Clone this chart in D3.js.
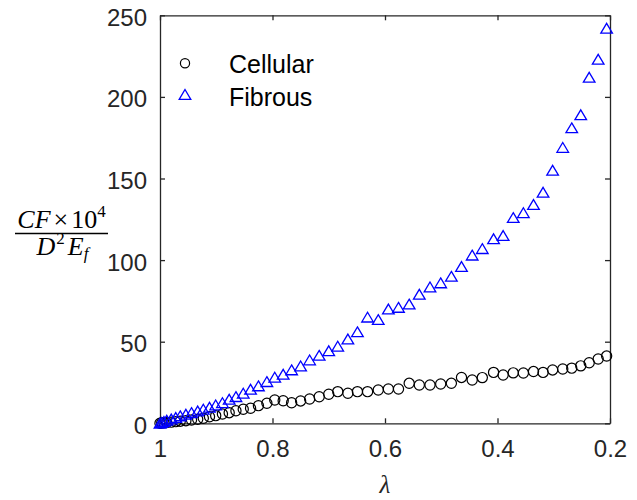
<!DOCTYPE html>
<html>
<head>
<meta charset="utf-8">
<script src="https://cdn.jsdelivr.net/npm/d3@7"></script>
<style>
body { margin: 0; background: #fff; }
.tick text { font-family: "Liberation Sans", Arial, sans-serif; }
</style>
</head>
<body>
<svg width="637" height="500"></svg>
<script>
// stretch values shared by both series
var lambda = [0.206, 0.221, 0.237, 0.252, 0.268, 0.284, 0.302, 0.319, 0.336, 0.354,
  0.372, 0.390, 0.407, 0.427, 0.445, 0.464, 0.482, 0.501, 0.520, 0.539,
  0.557, 0.576, 0.594, 0.612, 0.631, 0.649, 0.666, 0.684, 0.700, 0.717,
  0.734, 0.750, 0.766, 0.781, 0.796, 0.810, 0.825, 0.839, 0.852, 0.865,
  0.877, 0.889, 0.901, 0.912, 0.923, 0.933, 0.944, 0.954, 0.964, 0.972,
  0.980, 0.988, 0.993, 0.997, 1.000];

var cellular = [41.2, 39.4, 37.1, 35.2, 33.8, 33.3, 32.7, 31.2, 31.7, 30.8,
  30.9, 29.6, 31.2, 28.0, 26.5, 28.1, 24.5, 24.1, 23.5, 23.5,
  24.5, 21.0, 21.0, 20.4, 19.4, 19.4, 18.4, 19.4, 17.8, 16.3,
  14.9, 13.7, 12.6, 13.8, 14.3, 12.3, 10.8, 9.2, 8.6, 7.7,
  6.5, 5.7, 4.7, 4.0, 3.1, 2.5, 2.0, 1.6, 1.3, 1.0,
  0.7, 0.5, 0.3, 0.15, 0];

var fibrous = [242, 223, 212, 189, 181, 169, 155, 141.5, 134, 129,
  126, 115, 113, 107, 103, 96, 90, 86, 83.5, 79,
  73, 71, 70, 63.5, 65, 56, 51.6, 47.2, 44.4, 41.6,
  38.8, 35.1, 32.7, 30, 28.2, 25.5, 22.9, 20.8, 18.4, 16.3,
  14.7, 12.6, 11.2, 9.8, 8.6, 7.5, 6.5, 5.5, 4.5, 3.5,
  2.6, 1.8, 1.1, 0.5, 0];

var xTicks = [1, 0.8, 0.6, 0.4, 0.2];
var yTicks = [0, 50, 100, 150, 200, 250];
var seriesNames = ["Cellular", "Fibrous"];

var svg = d3.select("svg");
var plotLeft = 160, plotRight = 610, plotTop = 15.3, plotBottom = 423.3;
var axisColor = "#262626";

var x = d3.scaleLinear().domain([1, 0.2]).range([plotLeft, plotRight]);
var y = d3.scaleLinear().domain([0, 250]).range([plotBottom, plotTop]);

var fmt = function(d) { return d3.format("~g")(d); };

// axes, ticks pointing inwards on all four sides
svg.append("g")
    .attr("class", "xaxis")
    .attr("transform", "translate(0," + plotBottom + ")")
    .call(d3.axisBottom(x).tickValues(xTicks).tickFormat(fmt).tickSizeInner(-5).tickSizeOuter(0).tickPadding(17));
svg.append("g")
    .attr("transform", "translate(0," + plotTop + ")")
    .call(d3.axisTop(x).tickValues(xTicks).tickFormat("").tickSizeInner(-5).tickSizeOuter(0));
svg.append("g")
    .attr("class", "yaxis")
    .attr("transform", "translate(" + plotLeft + ",0)")
    .call(d3.axisLeft(y).tickValues(yTicks).tickSizeInner(-5).tickSizeOuter(0).tickPadding(13));
svg.append("g")
    .attr("transform", "translate(" + plotRight + ",0)")
    .call(d3.axisRight(y).tickValues(yTicks).tickFormat("").tickSizeInner(-5).tickSizeOuter(0));

svg.selectAll(".domain").attr("stroke", axisColor).attr("stroke-width", 1.3);
svg.selectAll(".tick line").attr("stroke", axisColor).attr("stroke-width", 1.3);
svg.selectAll(".tick text").attr("fill", axisColor).attr("font-size", 24);
svg.selectAll(".yaxis .tick text").attr("dy", "0.42em");

// markers
var tri = "M0,-5L5.8,4.8L-5.8,4.8Z";
var rad = 5.1;

svg.append("g").selectAll("circle")
    .data(lambda)
  .enter().append("circle")
    .attr("cx", function(d) { return x(d); })
    .attr("cy", function(d, i) { return y(cellular[i]); })
    .attr("r", rad)
    .attr("fill", "none")
    .attr("stroke", "#000")
    .attr("stroke-width", 1.2);

svg.append("g").selectAll("path")
    .data(lambda)
  .enter().append("path")
    .attr("d", tri)
    .attr("transform", function(d, i) { return "translate(" + x(d) + "," + y(fibrous[i]) + ")"; })
    .attr("fill", "none")
    .attr("stroke", "#0000ff")
    .attr("stroke-width", 1.3);

// legend
var legend = svg.append("g");
legend.append("circle").attr("cx", 185).attr("cy", 63.3).attr("r", 4.6)
    .attr("fill", "none").attr("stroke", "#000").attr("stroke-width", 1.2);
legend.append("path").attr("d", tri).attr("transform", "translate(185,94.5)")
    .attr("fill", "none").attr("stroke", "#0000ff").attr("stroke-width", 1.3);
legend.selectAll("text")
    .data(seriesNames)
  .enter().append("text")
    .attr("x", 229)
    .attr("y", function(d, i) { return 73 + i * 33; })
    .attr("font-family", "Liberation Sans, Arial, sans-serif")
    .attr("font-size", 25)
    .attr("fill", "#000")
    .text(function(d) { return d; });

// x label
svg.append("text")
    .attr("x", 385).attr("y", 493)
    .attr("text-anchor", "middle")
    .attr("font-family", "Liberation Serif, serif")
    .attr("font-style", "italic")
    .attr("font-size", 25)
    .attr("fill", axisColor)
    .text("λ");

// y label as a fraction
var serif = "Liberation Serif, DejaVu Serif, serif";
var num = svg.append("text")
    .attr("x", 61.5).attr("y", 228)
    .attr("text-anchor", "middle")
    .attr("font-family", serif)
    .attr("font-size", 26)
    .attr("fill", "#000");
num.append("tspan").attr("font-style", "italic").text("CF");
num.append("tspan").attr("dx", 3).text("×");
num.append("tspan").attr("dx", 3).text("10");
num.append("tspan").attr("font-size", 17).attr("dy", -11).text("4");

svg.append("line")
    .attr("x1", 15).attr("x2", 108).attr("y1", 233.5).attr("y2", 233.5)
    .attr("stroke", "#000").attr("stroke-width", 1.3);

var den = svg.append("text")
    .attr("x", 62.5).attr("y", 255)
    .attr("text-anchor", "middle")
    .attr("font-family", serif)
    .attr("font-size", 26)
    .attr("fill", "#000");
den.append("tspan").attr("font-style", "italic").text("D");
den.append("tspan").attr("font-size", 17).attr("dy", -11).attr("dx", 1).text("2");
den.append("tspan").attr("font-style", "italic").attr("dy", 11).attr("dx", 3).text("E");
den.append("tspan").attr("font-style", "italic").attr("font-size", 17).attr("dy", 4).text("f");
</script>
</body>
</html>
